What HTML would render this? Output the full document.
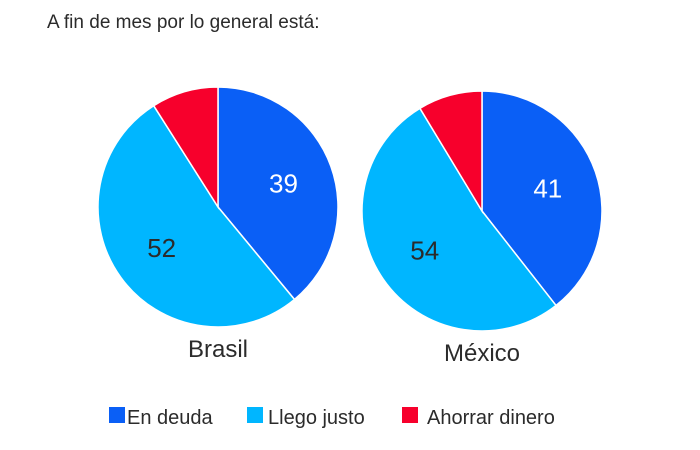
<!DOCTYPE html>
<html><head><meta charset="utf-8"><style>
body{margin:0;background:#fff;}
svg text{font-family:"Liberation Sans",sans-serif;fill:#2b2b2b;}
</style></head><body>
<svg width="700" height="445" id="chart">
<text x="47" y="28" font-size="19">A fin de mes por lo general está:</text>
<g id="pies"></g>
<g>
<rect x="109" y="407" width="16" height="16" fill="#0a5ff6"/>
<text x="127" y="424" font-size="20">En deuda</text>
<rect x="247" y="407" width="16" height="16" fill="#00b6ff"/>
<text x="268" y="424" font-size="20">Llego justo</text>
<rect x="402" y="407" width="16" height="16" fill="#f7002c"/>
<text x="427" y="424" font-size="20">Ahorrar dinero</text>
</g>
</svg>
<script>
const countries = ["Brasil", "México"];
const enDeuda = [39, 41];
const llegoJusto = [52, 54];
const ahorrar = [9, 9];
const colors = ["#0a5ff6", "#00b6ff", "#f7002c"];
const centersX = [218, 482], centersY = [207, 211], R = 120;
const NS = "http://www.w3.org/2000/svg";
const g = document.getElementById("pies");
countries.forEach((c, i) => {
  const vals = [enDeuda[i], llegoJusto[i], ahorrar[i]];
  const tot = vals.reduce((a, b) => a + b, 0);
  const cx = centersX[i], cy = centersY[i];
  let a0 = 0;
  vals.forEach((v, j) => {
    const a1 = a0 + v / tot * 2 * Math.PI;
    const p = document.createElementNS(NS, "path");
    const x0 = cx + R * Math.sin(a0), y0 = cy - R * Math.cos(a0);
    const x1 = cx + R * Math.sin(a1), y1 = cy - R * Math.cos(a1);
    const large = (a1 - a0) > Math.PI ? 1 : 0;
    p.setAttribute("d", `M${cx},${cy}L${x0},${y0}A${R},${R} 0 ${large} 1 ${x1},${y1}Z`);
    p.setAttribute("fill", colors[j]);
    p.setAttribute("stroke", "#fff");
    p.setAttribute("stroke-width", "1.5");
    
    
    g.appendChild(p);
    if (j < 2) {
      const am = (a0 + a1) / 2, rr = R * 0.58;
      const t = document.createElementNS(NS, "text");
      t.setAttribute("x", cx + rr * Math.sin(am));
      t.setAttribute("y", cy - rr * Math.cos(am) + 9);
      t.setAttribute("text-anchor", "middle");
      t.setAttribute("font-size", "26");
      t.style.fill = j === 0 ? "#fff" : "#2b2b2b";
      t.textContent = v;
      
      
      g.appendChild(t);
    }
    a0 = a1;
  });
  const lbl = document.createElementNS(NS, "text");
  lbl.setAttribute("x", cx);
  lbl.setAttribute("y", cy + R + 30);
  lbl.setAttribute("text-anchor", "middle");
  lbl.setAttribute("font-size", "24");
  lbl.textContent = c;
  
  
  g.appendChild(lbl);
});
</script>
</body></html>
